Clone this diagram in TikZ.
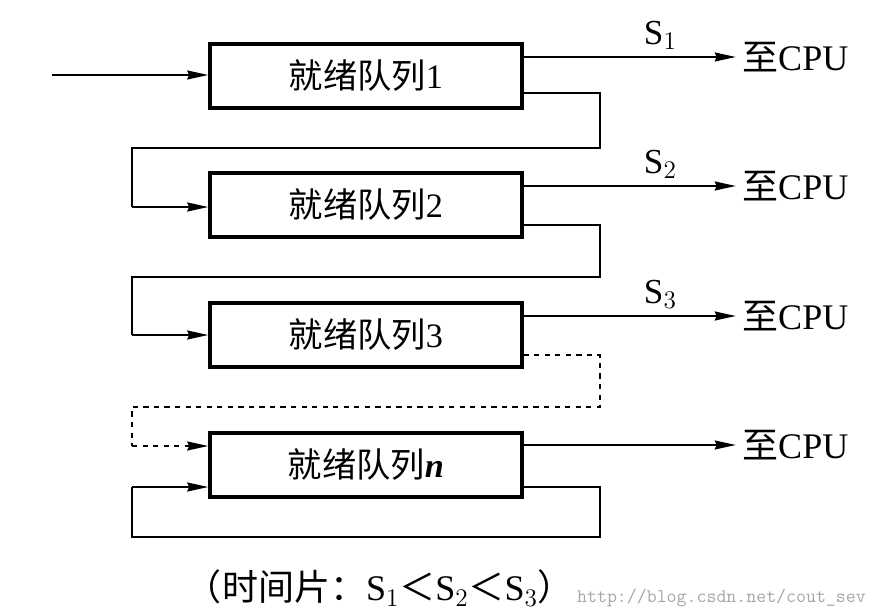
\documentclass[tikz,border=0pt]{standalone}
\usepackage{fontspec}
\setmainfont{Liberation Serif}
\newfontfamily\cjk{Noto Sans CJK SC}
\usetikzlibrary{arrows.meta,positioning}

\begin{document}
\begin{tikzpicture}[x=0.02cm,y=-0.02cm,
	queue/.style={draw=black,line width=1.8pt,minimum width=6.24cm,minimum height=1.28cm,font=\fontsize{19.5}{22}\selectfont},
	flow/.style={line width=1.5pt,-{Stealth[length=12pt,width=5pt,inset=1pt]}},
	loop/.style={line width=1.5pt},
	cpu/.style={font=\fontsize{20.5}{23}\selectfont,anchor=west}]
	\useasboundingbox (0,0) rectangle (876,615);

	\node[queue] (a) at (366, 76)  {{\cjk 就绪队列}1};
	\node[queue] (b) at (366, 205) {{\cjk 就绪队列}2};
	\node[queue] (c) at (366, 335) {{\cjk 就绪队列}3};
	\node[queue] (n) at (366, 465) {{\cjk 就绪队列}\textit{\textbf{n}}};

	\node[cpu] (ca) at (736, 57)  {{\cjk 至}CPU};
	\node[cpu] (cb) at (736, 186) {{\cjk 至}CPU};
	\node[cpu] (cc) at (736, 316) {{\cjk 至}CPU};
	\node[cpu] (cn) at (736, 445) {{\cjk 至}CPU};

	\coordinate (in) at (52, 75);
	\path[flow] (in) edge (in -| a.west);
	\path[flow] (a.east |- ca) edge node[above right=0pt and 4pt,font=\fontsize{20}{22}\selectfont]{S$_1$} (ca);
	\path[flow] (b.east |- cb) edge node[above right=0pt and 4pt,font=\fontsize{20}{22}\selectfont]{S$_2$} (cb);
	\path[flow] (c.east |- cc) edge node[above right=0pt and 4pt,font=\fontsize{20}{22}\selectfont]{S$_3$} (cc);
	\path[flow] (n.east |- cn) edge (cn);

	\draw[loop] (a.east |- 0,93) -| (600,148) -| (132,207);
	\draw[flow] (132,207) -- (b.west |- 0,207);
	\draw[loop] (b.east |- 0,225) -| (600,277) -| (132,335);
	\draw[flow] (132,335) -- (c.west |- 0,335);
	\draw[loop,dashed] (c.east |- 0,355) -| (600,407) -| (132,446);
	\draw[flow,dashed] (132,446) -- (n.west |- 0,446);
	\draw[loop] (n.east |- 0,487) -| (600,537) -| (132,487);
	\draw[flow] (132,487) -- (n.west |- 0,487);

	\node[font=\fontsize{20.5}{23}\selectfont] (t) at (380, 588) {{\cjk （时间片：}S$_1${\cjk ＜}S$_2${\cjk ＜}S$_3${\cjk ）}};
	\node[font=\ttfamily\fontsize{11}{13}\selectfont,text=black!35,anchor=east] (w) at (872, 598) {http://blog.csdn.net/cout\_sev};
\end{tikzpicture}
\end{document}
